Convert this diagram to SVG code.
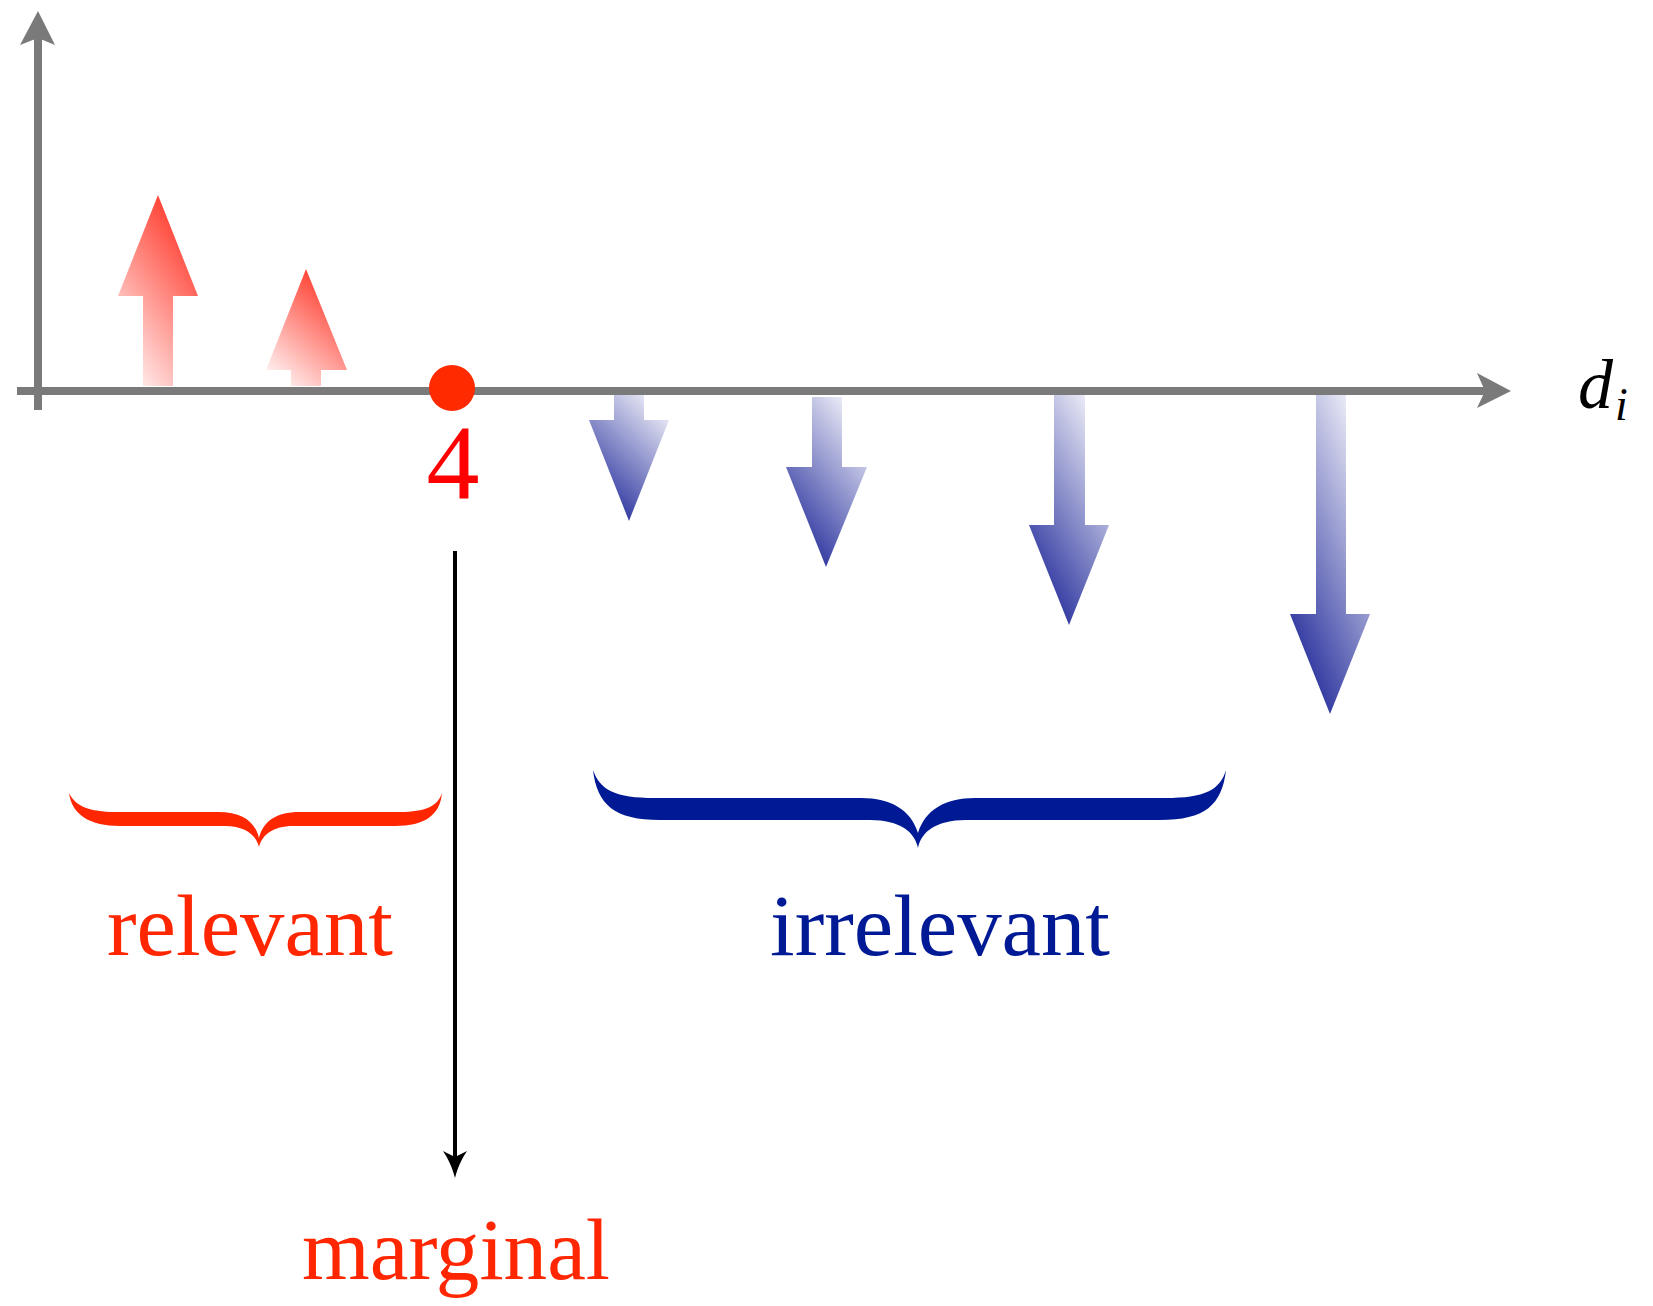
<svg xmlns="http://www.w3.org/2000/svg" width="1653" height="1306" viewBox="0 0 1653 1306">
<style>
.axis{stroke:#7a7a7a;stroke-width:8;fill:none}
.axhead{fill:#7a7a7a}
.red{fill:#ff2600}
.blue{fill:#001a96}
.lbl{font-family:"Liberation Serif",serif;font-size:86px}
.up{fill:url(#gRed)}
.down{fill:url(#gBlue)}
</style>
<defs>
<linearGradient id="gRed" x1="0.2" y1="1" x2="0.8" y2="0">
<stop offset="0" stop-color="#fff2f2"/>
<stop offset="1" stop-color="#ff2a1a"/>
</linearGradient>
<linearGradient id="gBlue" x1="0.8" y1="0" x2="0.2" y2="1">
<stop offset="0" stop-color="#f4f4fb"/>
<stop offset="1" stop-color="#1a2396"/>
</linearGradient>
</defs>
<rect width="1653" height="1306" fill="#ffffff"/>

<g id="red-arrow-1"><polygon class="up" points="143,386 143,296 118,296 158,195 198,296 173,296 173,386"/></g>
<g id="red-arrow-2"><polygon class="up" points="291,386 291,370 266,370 306,269 347,370 321,370 321,386"/></g>

<g id="blue-arrow-1"><polygon class="down" points="614,391 644,391 644,420 669,420 629,521 589,420 614,420"/></g>
<g id="blue-arrow-2"><polygon class="down" points="812,397 842,397 842,467 867,467 826,567 786,467 812,467"/></g>
<g id="blue-arrow-3"><polygon class="down" points="1054,395 1085,395 1085,525 1109,525 1069,625 1029,525 1054,525"/></g>
<g id="blue-arrow-4"><polygon class="down" points="1316,395 1346,395 1346,614 1370,614 1330,714 1290,614 1316,614"/></g>

<g id="y-axis">
<line class="axis" x1="38" y1="410" x2="38" y2="38"/>
<path class="axhead" d="M38,11 L55,45 L38,38 L20,45 Z"/>
</g>
<g id="x-axis">
<line class="axis" x1="17" y1="391" x2="1486" y2="391"/>
<path class="axhead" d="M1511,391 L1477,408 L1485,391 L1477,373 Z"/>
<text x="1578" y="408" font-family="'Liberation Serif',serif" font-style="italic" font-size="70">d</text>
<text x="1615" y="420" font-family="'Liberation Serif',serif" font-style="italic" font-size="46">i</text>
</g>

<g id="threshold">
<circle cx="452" cy="388" r="23" fill="#ff2a00"/>
<text x="453" y="498" text-anchor="middle" font-family="'Liberation Serif',serif" font-size="106" fill="#ff0000">4</text>
</g>

<g id="relevant">
<path class="red" d="M69,793 C72,815 90,826 120,826 L225,826 C245,826 256,835 259,847 C262,835 273,826 293,826 L395,826 C425,826 440,815 442,793 C438,806 425,812 400,812 L300,812 C275,812 263,822 259,838 C255,822 243,812 218,812 L115,812 C90,812 75,806 69,793 Z"/>
<text class="lbl" x="107" y="955" fill="#ff2600" textLength="286" lengthAdjust="spacingAndGlyphs">relevant</text>
</g>

<g id="irrelevant">
<path class="blue" d="M593,770 C597,805 615,820 660,820 L870,820 C900,820 915,832 918,848 C921,832 936,820 966,820 L1160,820 C1205,820 1222,805 1226,770 C1220,790 1205,798 1165,798 L975,798 C945,798 925,810 918,833 C911,810 891,798 861,798 L655,798 C615,798 600,790 593,770 Z"/>
<text class="lbl" x="770" y="955" fill="#001a96" textLength="340" lengthAdjust="spacingAndGlyphs">irrelevant</text>
</g>

<g id="marginal">
<text class="lbl" x="302" y="1279" fill="#ff2600" textLength="308" lengthAdjust="spacingAndGlyphs">marginal</text>
</g>

<g id="connectors">
<line x1="455" y1="551" x2="455" y2="1162" stroke="#000000" stroke-width="4"/>
<path d="M455,1178 C452,1166 447,1157 443,1151 L455,1157 L467,1151 C463,1157 458,1166 455,1178 Z" fill="#000000"/>
</g>
</svg>
